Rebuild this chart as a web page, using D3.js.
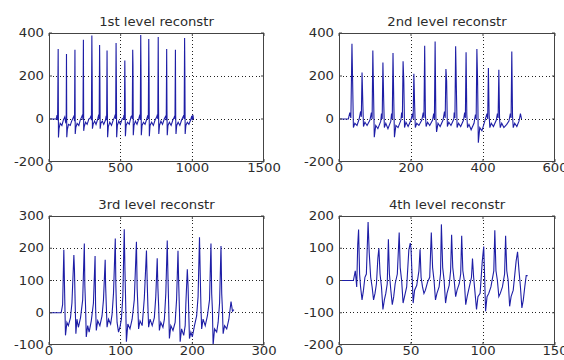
<!DOCTYPE html>
<html><head><meta charset="utf-8">
<script src="https://cdn.jsdelivr.net/npm/d3@7"></script>
<style>body{margin:0;background:#fff}svg{display:block}</style>
</head><body>
<svg id="c" width="564" height="360"></svg>
<script>
const titles = ["1st level reconstr", "2nd level reconstr", "3rd level reconstr", "4th level reconstr"];

const xTicks1 = [0, 500, 1000, 1500], yTicks1 = [-200, 0, 200, 400];
const xTicks2 = [0, 200, 400, 600],   yTicks2 = [-200, 0, 200, 400];
const xTicks3 = [0, 100, 200, 300],   yTicks3 = [-100, 0, 100, 200, 300];
const xTicks4 = [0, 50, 100, 150],    yTicks4 = [-200, -100, 0, 100, 200];

const level1 = [[0,0],[50,0],[56,18],[60,-5],[64,325],[66,-86],[70,-45],[78,-20],[90,-30],[100,-5],[110,10],
[116,-15],[120,-10],[122,302],[124,-85],[128,-50],[136,-25],[148,-30],[158,-10],[168,5],
[175,15],[178,-10],[181,322],[183,-70],[187,-40],[196,-20],[208,-30],[218,-5],[228,10],
[234,20],[237,-5],[240,369],[242,-55],[246,-35],[255,-15],[266,-25],[278,0],[288,5],
[293,15],[296,-5],[299,388],[301,220],[303,-45],[308,-25],[318,-10],[328,-25],[340,0],
[347,20],[350,0],[353,344],[355,195],[357,-45],[362,-20],[372,-10],[382,-25],[394,-5],
[399,15],[402,-5],[405,319],[407,70],[409,-85],[414,-35],[424,-15],[436,-30],[448,-5],[458,10],
[462,20],[465,0],[468,354],[470,175],[472,-85],[477,-30],[487,-10],[498,-25],[510,0],[520,5],
[523,18],[526,-5],[529,272],[531,120],[533,-80],[538,-30],[548,-15],[560,-25],[572,10],
[578,15],[581,0],[584,322],[586,250],[588,-75],[593,-30],[603,-10],[614,-25],[626,0],
[634,20],[637,-5],[640,391],[642,225],[644,-75],[649,-30],[659,-15],[670,-25],[682,0],
[690,18],[693,0],[696,372],[698,205],[700,-80],[705,-30],[716,-15],[728,-30],[740,-5],[752,10],
[756,20],[759,0],[762,381],[764,80],[766,-70],[771,-30],[781,-10],[792,-25],[804,0],[812,10],
[815,15],[818,-5],[821,325],[823,40],[825,-75],[830,-30],[840,-15],[852,-30],[864,-5],[874,8],
[876,15],[879,0],[882,322],[884,10],[886,-70],[891,-30],[901,-15],[913,-30],[925,-5],[936,10],
[940,18],[943,0],[946,377],[948,210],[950,-70],[955,-30],[965,-15],[976,-25],[988,-5],[996,15],[1000,-5],[1004,20],[1008,0]];

const level2 = [[0,0],[26,0],[30,30],[33,5],[36,350],[38,160],[40,-40],[44,-20],[50,-30],[56,0],
[60,35],[62,10],[64,216],[66,85],[68,-35],[72,-15],[78,-30],[86,-5],
[90,30],[92,0],[94,319],[96,115],[98,-85],[102,-30],[108,-45],[116,-10],
[118,25],[120,0],[122,263],[124,95],[126,-40],[130,-20],[136,-45],[144,-10],
[146,25],[148,0],[150,307],[152,100],[154,-85],[158,-30],[164,-40],[172,-5],
[174,30],[176,5],[178,268],[180,175],[182,-40],[186,-15],[192,-35],[200,-5],
[204,25],[206,0],[208,210],[210,70],[212,-40],[216,-20],[222,-30],[230,-5],
[234,30],[236,5],[238,341],[240,20],[242,-35],[246,-15],[252,-30],[260,-5],
[263,25],[265,0],[267,361],[269,10],[271,-60],[275,-20],[281,-35],[289,-5],
[293,35],[295,5],[297,232],[299,175],[301,-35],[305,-15],[311,-30],[319,0],
[320,30],[322,5],[324,338],[326,145],[328,-40],[332,-20],[338,-35],[346,-5],
[349,30],[351,5],[353,310],[355,20],[357,-40],[361,-25],[367,-50],[375,-20],
[379,20],[381,0],[383,325],[385,175],[387,-110],[391,-40],[397,-55],[405,-10],
[411,25],[413,0],[415,237],[417,20],[419,-40],[423,-20],[429,-35],[437,-5],
[440,25],[442,5],[444,229],[446,0],[448,-40],[452,-20],[458,-40],[466,-25],[472,-10],
[476,25],[478,5],[480,314],[482,15],[484,-40],[488,-20],[494,-35],[500,-10],[504,25],[507,0]];

const level3 = [[0,0],[17,0],[19,25],[20.7,195],[22,40],[23,-70],[25,-30],[27,-40],[30,-15],[32,30],
[34.7,179],[35.5,135],[36.5,30],[37.5,-65],[39,-20],[41,-45],[44,-15],[47,40],
[49.3,215],[50,85],[51,20],[52,-75],[54,-40],[56,-60],[59,-25],[62,30],
[64.3,176],[65,20],[66,-55],[68,-25],[71,-40],[74,-10],[76,40],
[78.4,164],[79,85],[80,20],[81,-45],[83,-20],[86,-35],[88,-5],[90,60],
[92.5,230],[93.3,85],[94,25],[95,-30],[97,-60],[99,-45],[101,-20],[103,50],
[105,259],[106,130],[107,30],[108,-90],[110,-35],[113,-50],[116,-20],[119,40],
[122,220],[123,75],[124,20],[125,-50],[127,-25],[130,-40],[133,45],
[136,193],[137,95],[138,20],[139,-45],[141,-20],[144,-40],[147,-15],[149,50],
[151,169],[152,75],[153,20],[154,-55],[156,-30],[159,-45],[161,-20],[163,60],
[165,224],[166,110],[167,20],[168,-80],[170,-40],[173,-55],[176,-30],[178,40],
[180,192],[181,90],[182,10],[183,-90],[185,-50],[188,-70],[190,-40],[191,30],
[193,135],[194,85],[195,0],[196,-80],[198,-60],[200,-75],[203,-40],[206,-10],[208,50],
[210,234],[211,120],[212,20],[213,-50],[215,-20],[218,-40],[221,-10],[224,40],
[226,215],[227,60],[228,10],[229,-100],[231,-50],[234,-60],[236,-30],[238,30],
[240,207],[241,60],[242,10],[243,-65],[245,-40],[248,-50],[251,-20],[254,35],[256,5],[258,10]];

const level4 = [[0,0],[10,0],[11.3,30],[12.3,-20],[13,110],[13.6,158],[14.3,20],[15,-20],[16,-60],[17,-30],[18,10],[19,20],
[20.2,181],[21,85],[22,10],[23,-20],[24,-60],[25,-40],[26,-10],[27,70],
[27.7,100],[28.5,20],[29.5,-20],[30.5,-90],[31.5,-60],[32.5,-40],[33.5,-10],
[34.3,128],[35,20],[36,-30],[37,-75],[38,-50],[39,-10],[40.5,20],
[41.8,149],[42.5,40],[43.5,0],[44.5,-70],[45.5,-50],[47,-20],[48.5,95],
[49.5,116],[50,100],[50.8,10],[51.5,-70],[52.5,-30],[54,-15],[55.5,30],
[56.3,97],[57,10],[58,-20],[59,-40],[60,-30],[61.5,-5],[63,10],
[64.1,149],[65,40],[66,0],[67,-60],[68,-40],[69.5,-20],[70.5,20],
[71.1,174],[72,40],[73,0],[74,-70],[75,-40],[76.5,-15],[77.5,30],
[78.2,142],[79,40],[80,0],[81,-50],[82,-30],[83.5,-10],[84.5,20],
[85.2,139],[86,30],[87,0],[88,-75],[89,-50],[90.5,-20],[92,10],
[92.7,68],[93.5,10],[94.5,-40],[95.5,-90],[96.5,-50],[98,-40],[99.5,60],
[100.5,105],[101,30],[101.8,-95],[102.8,-50],[104,-40],[105.5,-20],[107.5,30],
[108.2,156],[109,30],[110,0],[111,-50],[112,-40],[113.5,-20],[115,20],
[115.7,139],[116.5,30],[117.5,0],[118.5,-80],[119.5,-50],[121,-30],[123,60],
[124,89],[125,30],[126,-20],[127,-85],[128,-60],[129,-20],[130,15],[131,15]];

const series = [level1, level2, level3, level4];
const xTickSets = [xTicks1, xTicks2, xTicks3, xTicks4];
const yTickSets = [yTicks1, yTicks2, yTicks3, yTicks4];

// layout (pixel boxes of the four axes)
const boxes = [
  {x0: 49, x1: 264, y0: 33, y1: 162},
  {x0: 339, x1: 555, y0: 33, y1: 162},
  {x0: 49, x1: 264, y0: 216, y1: 345},
  {x0: 339, x1: 555, y0: 216, y1: 345}
];

const svg = d3.select("#c");
svg.append("rect").attr("width", 564).attr("height", 360).attr("fill", "#fff");
const font = "'DejaVu Sans', sans-serif";
const textColor = "#2b2b2b";
const sx = 1.15;

function label(g, x, y, txt, anchor, size) {
  g.append("text")
    .attr("transform", `translate(${x},${y}) scale(${sx},1)`)
    .attr("text-anchor", anchor)
    .attr("font-family", font)
    .attr("font-size", size)
    .attr("fill", textColor)
    .text(txt);
}

boxes.forEach((b, i) => {
  const xt = xTickSets[i], yt = yTickSets[i];
  const x = d3.scaleLinear().domain([xt[0], xt[xt.length - 1]]).range([b.x0, b.x1]);
  const y = d3.scaleLinear().domain([yt[0], yt[yt.length - 1]]).range([b.y1, b.y0]);
  const g = svg.append("g");

  // grid
  g.selectAll(".gx").data(xt.slice(1, -1)).join("line")
    .attr("x1", d => x(d)).attr("x2", d => x(d))
    .attr("y1", b.y0).attr("y2", b.y1)
    .attr("stroke", "#222").attr("stroke-width", 1)
    .attr("stroke-dasharray", "1,2.5").attr("shape-rendering", "crispEdges");
  g.selectAll(".gy").data(yt.slice(1, -1)).join("line")
    .attr("x1", b.x0).attr("x2", b.x1)
    .attr("y1", d => y(d)).attr("y2", d => y(d))
    .attr("stroke", "#222").attr("stroke-width", 1)
    .attr("stroke-dasharray", "1,2.5").attr("shape-rendering", "crispEdges");

  // signal
  const clipId = "clip" + i;
  svg.append("clipPath").attr("id", clipId).append("rect")
    .attr("x", b.x0).attr("y", b.y0).attr("width", b.x1 - b.x0).attr("height", b.y1 - b.y0);
  g.append("path")
    .datum(series[i])
    .attr("clip-path", `url(#${clipId})`)
    .attr("fill", "none")
    .attr("stroke", "#1e1ea6")
    .attr("stroke-width", 1.1)
    .attr("stroke-linejoin", "miter")
    .attr("d", d3.line().x(d => x(d[0])).y(d => y(d[1])));

  // box
  g.append("rect")
    .attr("x", b.x0 + 0.5).attr("y", b.y0 + 0.5)
    .attr("width", b.x1 - b.x0 - 1).attr("height", b.y1 - b.y0 - 1)
    .attr("fill", "none").attr("stroke", "#444").attr("stroke-width", 1);

  // ticks (inward)
  xt.forEach(v => {
    g.append("line").attr("x1", x(v)).attr("x2", x(v)).attr("y1", b.y1).attr("y2", b.y1 - 3).attr("stroke", "#444");
    g.append("line").attr("x1", x(v)).attr("x2", x(v)).attr("y1", b.y0).attr("y2", b.y0 + 3).attr("stroke", "#444");
  });
  yt.forEach(v => {
    g.append("line").attr("x1", b.x0).attr("x2", b.x0 + 3).attr("y1", y(v)).attr("y2", y(v)).attr("stroke", "#444");
    g.append("line").attr("x1", b.x1).attr("x2", b.x1 - 3).attr("y1", y(v)).attr("y2", y(v)).attr("stroke", "#444");
  });

  // tick labels
  xt.forEach(v => label(g, x(v), b.y1 + 10, String(v), "middle", 11.5));
  yt.forEach(v => label(g, b.x0 - 5, y(v) + 4, String(v), "end", 11.5));

  // title
  label(g, (b.x0 + b.x1) / 2, b.y0 - 7, titles[i], "middle", 11.5);
});
</script>
</body></html>
